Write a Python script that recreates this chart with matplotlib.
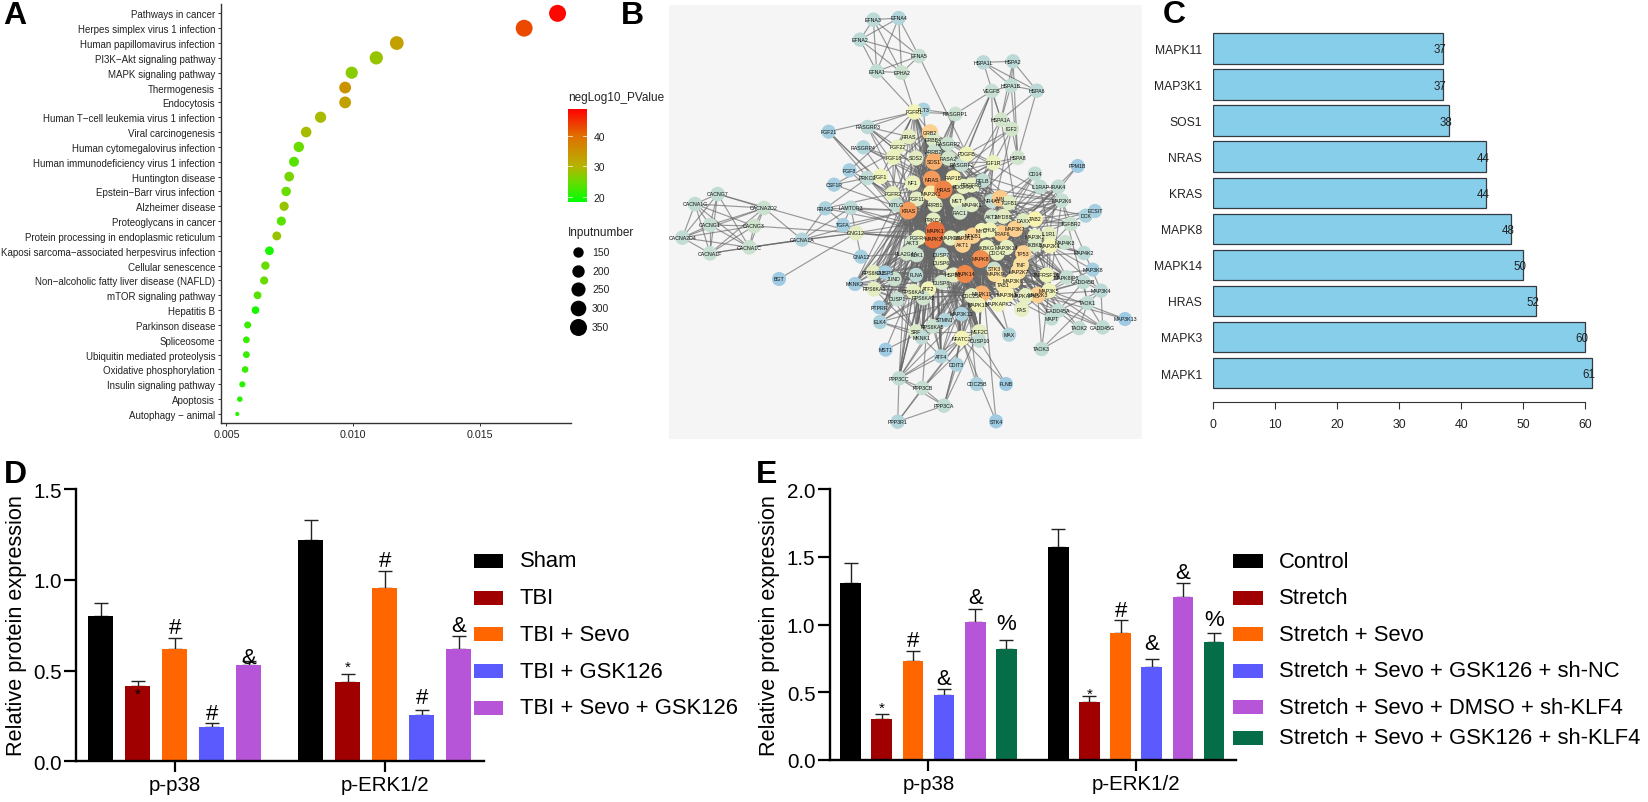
import numpy as np
import matplotlib
matplotlib.use('Agg')
import matplotlib.pyplot as plt
from matplotlib.colors import LinearSegmentedColormap
from matplotlib.collections import LineCollection
from matplotlib.patches import Rectangle

plt.rcParams['font.family'] = ['Liberation Sans', 'DejaVu Sans']

# ---------- Panel A data ----------
pathways = ['Pathways in cancer', 'Herpes simplex virus 1 infection', 'Human papillomavirus infection',
            'PI3K\u2212Akt signaling pathway', 'MAPK signaling pathway', 'Thermogenesis', 'Endocytosis',
            'Human T\u2212cell leukemia virus 1 infection', 'Viral carcinogenesis', 'Human cytomegalovirus infection',
            'Human immunodeficiency virus 1 infection', 'Huntington disease', 'Epstein\u2212Barr virus infection',
            'Alzheimer disease', 'Proteoglycans in cancer', 'Protein processing in endoplasmic reticulum',
            'Kaposi sarcoma\u2212associated herpesvirus infection', 'Cellular senescence',
            'Non\u2212alcoholic fatty liver disease (NAFLD)', 'mTOR signaling pathway', 'Hepatitis B',
            'Parkinson disease', 'Spliceosome', 'Ubiquitin mediated proteolysis', 'Oxidative phosphorylation',
            'Insulin signaling pathway', 'Apoptosis', 'Autophagy \u2212 animal']
ratio = [0.01808, 0.01676, 0.01173, 0.01092, 0.00995, 0.00969, 0.00969, 0.00872, 0.00815, 0.00786,
         0.00767, 0.00748, 0.00736, 0.00728, 0.00717, 0.00699, 0.00670, 0.00654, 0.00649, 0.00623,
         0.00615, 0.00584, 0.00579, 0.00579, 0.00574, 0.00563, 0.00553, 0.00543]
neglog = [48, 43, 33, 28, 27, 35, 33, 29, 29, 25, 24, 26, 25, 28, 24, 28, 20, 25, 25, 24, 20,
          22, 22, 22, 22, 21, 21, 21]
inputnumber = [350, 345, 240, 225, 195, 185, 185, 170, 155, 150, 140, 135, 130, 125, 122, 118, 115,
               108, 105, 98, 95, 85, 82, 82, 80, 72, 65, 50]
size_legend = [150, 200, 250, 300, 350]
color_ticks = [20, 30, 40]

# ---------- Panel B data: name, layout x, layout y, degree ----------
nodes = """EFNA3 640 62 5;EFNA4 716 57 4;EFNA2 600 122 5;EFNA5 777 171 7;EFNA1 650 217 6;EPHA2 725 221 8
HSPA1L 970 190 5;HSPA2 1059 187 5;HSPA1B 1053 260 6;HSPA6 1130 275 5;VEGFB 995 276 7;HSPA1A 1023 362 10
IGF2 1055 390 10;HSPA8 1073 476 9;FLT3 790 332 3;FGFR1 763 339 18;RASGRP1 886 345 8;RASGRP3 623 384 5
FGF21 506 398 2;RASGRP4 610 445 4;FGF8 568 514 2;CSF1R 522 557 2;PRKCE 622 537 6;FGF1 662 532 17
FGF22 713 444 15;FGF18 700 475 16;RRAS 747 413 14;GRB2 810 400 28;ERBB4 820 422 12;RASGRP2 863 435 8
ARRB2 822 458 8;SOS1 822 487 38;RASA2 865 478 10;RASGRF2 905 497 7;PDGFB 920 465 17;SOS2 768 477 14
IGF1R 1000 491 16;CD14 1125 524 6;PPM1B 1253 501 1;IL1RAP 1140 563 6;IRAK4 1195 563 6;MAP2K6 1205 605 7
ECSIT 1305 636 2;DCK 1277 650 3;TGFBR2 1232 675 8;NF1 758 552 16;NRAS 815 541 44;RAP1B 880 537 20
PDGFRA 910 562 15;PDGFRB 935 558 15;RELB 968 545 6;FGFR2 698 584 15;KITLG 710 618 6;MAP2K1 812 583 22
FGF11 770 600 14;ARRB1 825 617 14;KRAS 745 635 44;HRAS 850 572 52;PRKCA 820 663 14;MET 892 606 15
RAC1 900 640 10;MAP4K1 935 617 13;NR4A1 995 606 7;JUN 1020 598 30;TGFB1 1047 611 13;MYD88 1030 652 14
AKT2 995 653 10;DAXX 1090 665 13;TAB2 1125 660 20;MAP3K7 1065 690 28;TRAF6 1025 703 30;MYC 965 695 18
CHUK 990 693 17;TP53 1090 763 28;TNF 1083 797 25;MAP2K7 1075 818 25;IL1R1 1167 705 14;MAP3K2 1125 712 15
IKBKB 1125 737 12;MAP2K4 1170 740 18;MAP4K3 1215 730 8;MAP4K2 1272 762 5;MAP3K8 1298 812 2;MAP3K4 1323 875 5
GADD45B 1270 849 6;MAPK8IP1 1220 835 7;TNFRSF1A 1160 828 17;MAP3K5 1167 875 17;MAP2K3 1133 888 28
MAPKAPK3 1097 890 15;TAOK1 1283 912 6;GADD45A 1195 935 6;MAP3K13 1395 960 1;TAOK2 1257 987 6;GADD45G 1328 985 6
MAPT 1175 958 6;TAOK3 1145 1050 6;FAS 1085 931 15;MAX 1047 1007 4;MAP3K3 1040 887 20;TAB1 1030 858 22
MAP3K6 1060 845 22;MAP3K14 1040 745 15;IKBKG 980 745 16;MAPK8 962 780 48;CDC42 1012 762 15;MAPK1 826 695 61
MAPK3 820 720 60;MAPK10 872 717 15;MAP2K2 910 717 15;AKT1 908 737 28;NFKB1 938 710 28;FGFR4 775 716 16
AKT3 757 730 10;PLA2G4A 740 763 10;ELK1 770 768 8;DUSP7 845 767 5;DUSP6 845 790 15;HSPB1 880 828 14
MAPK14 915 825 50;STK3 1002 810 8;MAPK9 1005 825 25;MAPK11 965 885 37;MAPK13 955 918 17;MAPKAPK2 1015 915 17
CDC25A 935 890 14;FLNA 768 828 5;JUND 703 840 8;DUSP8 845 850 10;ATF2 805 870 18;RPS6KA6 760 877 15
RPS6KA1 642 870 14;RPS6KA3 640 820 14;DUSP5 675 820 2;MKNK2 585 855 2;DUSP1 712 900 7;RPS6KA2 790 897 9
PTPRR 658 925 2;ELK4 660 969 3;SRF 768 998 12;RPS6KA5 818 982 8;MKNK1 785 1015 6;STMN1 855 963 4
MAP3K12 905 945 3;NFATC2 905 1018 18;MEF2C 958 998 15;DUSP10 958 1025 6;ATF4 843 1072 4;DDIT3 890 1097 3
PPP3CC 717 1138 6;PPP3CB 787 1167 7;CDC25B 950 1155 3;FLNB 1038 1155 1;PPP3CA 852 1220 6;PPP3R1 713 1268 4
STK4 1008 1267 1;MST1 677 1052 1;CACNG7 173 585 6;CACNA1G 105 615 6;CACNA2D2 312 627 8;CACNG1 150 678 7
CACNG3 282 681 9;CACNA2D4 67 716 6;CACNA1F 150 763 7;CACNA1C 268 745 8;CACNA1A 426 722 4;TGFA 549 678 2
GNG12 588 702 14;LAMTOR3 572 626 5;RRAS2 496 628 3;GNA12 603 773 2;BGT 357 840 1"""

core = ("KRAS NRAS HRAS GRB2 SOS1 SOS2 MAP2K1 MAP2K2 MAP2K3 MAP2K4 MAP2K6 MAP2K7 MAP3K1 MAP3K2 MAP3K3 MAP3K5 MAP3K7 "
        "MAP3K14 AKT1 AKT2 AKT3 JUN MYC TP53 TNF TRAF6 NFKB1 CHUK IKBKB IKBKG TAB1 TAB2 ELK1 ELK4 ATF2 ATF4 SRF MKNK1 "
        "MKNK2 RPS6KA1 RPS6KA2 RPS6KA3 RPS6KA5 RPS6KA6 DUSP1 DUSP5 DUSP6 DUSP7 DUSP8 DUSP10 MAPK8IP1 PRKCA RAC1 "
        "CDC42 FGFR1 FGFR2 FGFR4 PDGFRA PDGFRB IGF1R MET ARRB1 ARRB2 HSPB1 MAPKAPK2 MAPKAPK3 NFATC2 MEF2C PPP3CC")
edge_groups = {
    'EFNA3': 'EFNA4 EFNA2 EFNA1 EPHA2 EFNA5', 'EFNA4': 'EFNA2 EFNA1 EPHA2 EFNA5', 'EFNA2': 'EFNA1 EPHA2 EFNA5',
    'EFNA5': 'EFNA1 EPHA2 PDGFB', 'EFNA1': 'EPHA2 FGFR1', 'EPHA2': 'FGFR1',
    'HSPA1L': 'HSPA2 HSPA1B HSPA6 HSPA1A', 'HSPA2': 'HSPA1B HSPA6 HSPA1A HSPA8', 'HSPA1B': 'HSPA6 HSPA1A HSPA8 VEGFB',
    'HSPA6': 'HSPA1A HSPA8', 'VEGFB': 'RASGRF2 PDGFB RASGRP1 HSPA1A IGF1R HRAS', 'HSPA1A': 'IGF2 AKT1 MAPK1 TP53',
    'IGF2': 'IGF1R HSPA8 KRAS PDGFB AKT2', 'HSPA8': 'MAPK3 IGF1R HRAS', 'RASGRP1': 'HRAS NRAS KRAS FGFR1 RASGRP2 SOS1 FLT3 PRKCA',
    'FGFR1': 'FGF21 RASGRP3 FGF22 FGF18 FGF1 FGF11 FGF8 KITLG GRB2 SOS1 HRAS KRAS NRAS FLT3',
    'FGF21': 'KRAS FGFR2 FGFR4', 'RASGRP3': 'HRAS KRAS NRAS RRAS FGF22 PRKCA', 'RASGRP4': 'HRAS KRAS NRAS FGF18',
    'FGF8': 'FGFR2 FGFR4', 'CSF1R': 'KRAS GRB2 PRKCE', 'PRKCE': 'KRAS HRAS MAPK1 MAPK3 FGF1 RRAS2', 'FGF1': 'FGFR2 FGFR4 KRAS MAPK1 GRB2',
    'FGF22': 'FGFR2 FGFR4 GRB2', 'FGF18': 'FGFR2 FGFR4 NRAS', 'RRAS': 'HRAS MAPK1 NF1 SOS1', 'ERBB4': 'GRB2 SOS1 HRAS KRAS MAPK1 AKT1',
    'CACNG7': 'CACNA1G CACNG1 CACNA2D4 CACNA1F CACNA1C CACNA2D2 GNG12',
    'CACNA1G': 'CACNG1 CACNA2D4 CACNA1F CACNA2D2 CACNG3 CACNA1C',
    'CACNA2D2': 'CACNG1 CACNA2D4 CACNG3 CACNA1C CACNA1F CACNA1A',
    'CACNG1': 'CACNA2D4 CACNA1F CACNG3 CACNA1C', 'CACNA2D4': 'CACNA1F CACNG3 CACNA1C',
    'CACNA1F': 'CACNG3 CACNA1C CACNA1A', 'CACNG3': 'CACNA1C GNG12', 'CACNA1C': 'CACNA1A GNG12',
    'CACNA1A': 'GNA12 GNG12 LAMTOR3 RRAS2 KRAS', 'GNG12': 'TGFA GNA12 RRAS2 LAMTOR3 BGT MAPK1 MAPK3 FGFR4 AKT1 PRKCA',
    'GNA12': 'PLA2G4A', 'TGFA': 'KRAS LAMTOR3', 'LAMTOR3': 'MAPK1 MAPK3 KRAS', 'RRAS2': 'KRAS PRKCE MAPK1 FGFR2',
    'KITLG': 'KRAS MAPK1 AKT3 PRKCA', 'CD14': 'IL1RAP MYD88 TRAF6 TGFB1 JUN', 'IL1RAP': 'IRAK4 MYD88 IL1R1 TRAF6 MAP2K6',
    'IRAK4': 'MYD88 TRAF6 IL1R1 MAP3K7 DAXX', 'PPM1B': 'MAP3K7 TAB2', 'MAP2K6': 'MAP3K7 MAPK14 MAPK11 MAP3K5 DAXX TP53',
    'ECSIT': 'TRAF6 DAXX', 'DCK': 'MAP3K2 JUN', 'TGFBR2': 'MAP3K7 TGFB1 DAXX TAB2 MAP2K4', 'MAP4K3': 'MAP3K2 MAPK8 MAP2K4 TAB1 TNF',
    'MAP4K2': 'MAP3K2 MAP2K4 TRAF6 MAPK8', 'MAP3K8': 'MAP2K4 TNFRSF1A MAP3K5', 'MAP3K4': 'GADD45B GADD45A GADD45G MAP2K3 MAP2K4 MAP2K6 TAOK1',
    'GADD45B': 'MAP3K5 GADD45A TAOK1 MAP2K3', 'GADD45A': 'MAPK14 TP53 MAP2K3 GADD45G MAP3K5', 'GADD45G': 'MAP2K3 TAOK1 MAP3K5',
    'MAPK8IP1': 'MAPK8 MAP2K7 MAP3K5 MAP2K4 MAPK9 MAPK10 TAB1', 'TAOK1': 'MAP2K3 MAP2K6 TAOK2 TAOK3', 'TAOK2': 'MAP2K3 TAOK3 MAP3K5',
    'TAOK3': 'MAP2K3 MAP3K5', 'MAP3K13': 'MAP2K3 MAP3K5', 'MAPT': 'MAPK8 MAPK14 MAP2K3 MAP2K7', 'FAS': 'MAP3K5 DAXX TNF CHUK MAPK8 MAPK14 TP53',
    'MAX': 'MYC MAPK14 MAPK1 MAPK3', 'STK3': 'MAPK14 RAC1', 'FLNA': 'MAPK14 MAPK1 MAPK8 RAC1 CDC42 ATF2', 'JUND': 'JUN MAPK1 MAPK8 MAPK14 ATF2',
    'STMN1': 'MAPK1 MAPK14 MAPK8', 'MAP3K12': 'MAP2K7 MAPK8 MAPK14', 'NFATC2': 'PPP3CC PPP3CB PPP3CA PPP3R1 JUN ATF4 MEF2C',
    'MEF2C': 'MAPK14 PPP3CA PPP3CB', 'DUSP10': 'MAPK14 MAPK8 MAPK1 FLNB', 'ATF4': 'PPP3CC DDIT3 MAPK14 RPS6KA5', 'DDIT3': 'MAPK14 PPP3CA',
    'CDC25B': 'MAPK14 NFATC2', 'FLNB': 'NFATC2', 'STK4': 'MAPK8 NFATC2', 'MST1': 'MAPK1 RPS6KA5',
    'PPP3CC': 'PPP3CB PPP3CA PPP3R1', 'PPP3CB': 'PPP3CA PPP3R1 MAPK3', 'PPP3CA': 'PPP3R1 MAPK8', 'PPP3R1': 'NFATC2',
    'PTPRR': 'MAPK1 MAPK3 MAPK14', 'ELK4': 'MAPK14 SRF MAPK8', 'BGT': 'GNG12',
    'MAPK1': core + ' MAPK3 MAPK14 MAPK8 MAPK9 MAPK10 NF1 RAP1B FLT3 CDC25A',
    'MAPK3': core + ' MAPK14 MAPK8 NF1 RELB NR4A1 RAP1B MAP4K1 TGFB1',
    'HRAS': core + ' NRAS RAP1B RASA2 RASGRF2 RASGRP2 NF1 RAC1 FGF11 PDGFB',
    'KRAS': core + ' NRAS RAP1B RASA2 RASGRF2 RASGRP2 NF1 RAC1 FGF11 PDGFB',
    'NRAS': core + ' RAP1B RASA2 RASGRF2 RASGRP2 NF1 RAC1 FGF11 PDGFB',
    'MAPK14': core + ' MAPK8 MAPK11 MAPK13 MAPK9 MAP3K6 MAP4K1 CDC25A DAXX TGFB1 TNFRSF1A MAPT',
    'MAPK8': core + ' MAPK9 MAPK10 MAP3K6 MAP4K1 DAXX TGFB1 TNFRSF1A',
    'MAPK11': core + ' MAPK13 CDC25A MAP3K6 DAXX',
    'MAP3K1': core, 'SOS1': core + ' RASA2 FGF22 FGF18 PDGFB', 'GRB2': core + ' RASA2 FGF11 PDGFB FGF1',
    'MAP3K7': 'MAP2K3 MAP2K4 MAP2K6 MAP2K7 TAB1 TAB2 TRAF6 TNF TP53 IKBKB IKBKG CHUK NFKB1 DAXX MAP3K6 MAP3K5 IL1R1 MYD88',
    'TRAF6': 'TNF TP53 IKBKB IKBKG CHUK NFKB1 DAXX MAP3K5 TAB1 TAB2 IL1R1 MYD88 AKT1 TNFRSF1A MAP3K14',
    'TNF': 'TP53 TNFRSF1A AKT1 MAP2K7 MAP3K5 DAXX MAP3K14 NFKB1 JUN', 'TP53': 'AKT1 MAP2K3 MAP2K4 MAP3K2 IKBKB MYC JUN',
    'AKT1': 'AKT2 AKT3 NFKB1 MYC CHUK IKBKB PDGFRA PDGFRB IGF1R MET FGFR1 FGFR2 RAC1 GRB2 MAP3K5 NR4A1 TGFB1',
    'MAP2K3': 'MAP3K5 MAP3K2 MAP3K6 MAPKAPK3 TNFRSF1A MAP2K7', 'MAP2K4': 'IL1R1 MAP3K2 TAB1 TAB2 DAXX IKBKB MAP3K5 MAP3K6',
    'MAP2K7': 'TAB1 MAP3K3 MAP3K5 MAP3K6 TNFRSF1A', 'TNFRSF1A': 'MAP3K5 IL1R1 TAB2 DAXX IKBKB',
    'RPS6KA1': 'SRF DUSP1 ATF2 JUND RPS6KA3', 'RPS6KA3': 'SRF FLNA JUND DUSP5 DUSP1', 'RPS6KA2': 'SRF DUSP1 ATF2 RPS6KA6',
    'DUSP1': 'SRF ELK4 ELK1 PTPRR MKNK2', 'MKNK2': 'ATF2', 'SRF': 'ELK1 ELK4 MEF2C RPS6KA5 MKNK1', 'ELK1': 'FLNA DUSP6 SRF',
    'MKNK1': 'ELK4 RPS6KA5 ATF4',
}
# ---------- Panel C data ----------
genes = ['MAPK1', 'MAPK3', 'HRAS', 'MAPK14', 'MAPK8', 'KRAS', 'NRAS', 'SOS1', 'MAP3K1', 'MAPK11']
gene_counts = [61, 60, 52, 50, 48, 44, 44, 38, 37, 37]

# ---------- Panels D / E data ----------
groups = ['p-p38', 'p-ERK1/2']
d_labels = ['Sham', 'TBI', 'TBI + Sevo', 'TBI + GSK126', 'TBI + Sevo + GSK126']
d_means = [[0.80, 0.414, 0.62, 0.1875, 0.531], [1.222, 0.436, 0.956, 0.256, 0.618]]
d_tops = [[0.873, 0.445, 0.678, 0.21, 0.555], [1.331, 0.482, 1.048, 0.285, 0.693]]
d_signs = [['', '*', '#', '#', '&'], ['', '*', '#', '#', '&']]
e_labels = ['Control', 'Stretch', 'Stretch + Sevo', 'Stretch + Sevo + GSK126 + sh-NC',
            'Stretch + Sevo + DMSO + sh-KLF4', 'Stretch + Sevo + GSK126 + sh-KLF4']
e_means = [[1.305, 0.303, 0.732, 0.48, 1.022, 0.818], [1.571, 0.431, 0.938, 0.69, 1.204, 0.869]]
e_tops = [[1.458, 0.337, 0.803, 0.525, 1.113, 0.889], [1.709, 0.47, 1.032, 0.749, 1.31, 0.936]]
e_signs = [['', '*', '#', '&', '&', '%'], ['', '*', '#', '&', '&', '%']]
bar_colors = ['#000000', '#a00000', '#ff6600', '#5a5aff', '#b755d9', '#056d47']

# ---------- layout helpers ----------
W, H = 1649, 803
fig = plt.figure(figsize=(W / 100, H / 100), dpi=100, facecolor='white')


def ax_px(l, t, r, b):
    return fig.add_axes([l / W, 1 - b / H, (r - l) / W, (b - t) / H])


def txt(x, y, s, **kw):
    kw.setdefault('va', 'center')
    return fig.text(x / W, 1 - y / H, s, **kw)


for s, x, y in [('A', 15, 16), ('B', 632, 16), ('C', 1174, 15), ('D', 15, 475), ('E', 767, 475)]:
    txt(x, y, s, fontsize=23, fontweight='bold', ha='center', color='black')

# ---------- Panel A ----------
axA = ax_px(221, 5, 571.5, 424)
green_red = LinearSegmentedColormap.from_list('gr', [(0, '#00ff00'), (0.21, '#66dd00'), (0.38, '#b5b500'),
                                                    (0.71, '#e07000'), (1, '#ff0000')])
vmin, vmax = 18.5, 48.7


def area(n):
    d2 = 108 + 0.905 * (n - 150)
    return d2 * 0.72 ** 2


ypos = np.arange(len(pathways))[::-1]
axA.scatter(ratio, ypos, s=[area(n) for n in inputnumber], c=neglog, cmap=green_red, vmin=vmin, vmax=vmax,
            linewidths=0, zorder=3, clip_on=False)
axA.set_xlim(0.004787, 0.01863)
axA.set_ylim(-0.606, 27.63)
axA.set_xticks([0.005, 0.010, 0.015])
axA.set_xticklabels(['0.005', '0.010', '0.015'], fontsize=7.7)
axA.set_yticks(ypos)
axA.set_yticklabels(pathways, fontsize=7.0)
axA.tick_params(length=2.2, width=0.7, pad=2, color='#333333', labelcolor='#222222')
for sp in ['top', 'right']:
    axA.spines[sp].set_visible(False)
for sp in ['left', 'bottom']:
    axA.spines[sp].set_linewidth(1.0)
    axA.spines[sp].set_color('#333333')

cax = ax_px(568, 110, 586.7, 202.7)
grad = np.linspace(vmax, vmin, 256).reshape(-1, 1)
cax.imshow(grad, aspect='auto', cmap=green_red, vmin=vmin, vmax=vmax, extent=[0, 1, vmin, vmax])
cax.set_xticks([])
cax.set_yticks(color_ticks)
cax.set_yticklabels([str(v) for v in color_ticks], fontsize=7.5)
cax.yaxis.tick_right()
cax.tick_params(axis='y', length=0, pad=5, labelcolor='#222222')
for v in color_ticks:
    cax.plot([0, 0.2], [v, v], color='white', lw=0.5)
    cax.plot([0.8, 1], [v, v], color='white', lw=0.5)
cax.set_xlim(0, 1)
cax.set_ylim(vmin, vmax)
for sp in cax.spines.values():
    sp.set_visible(False)
txt(568, 98, 'negLog10_PValue', fontsize=8.5, color='#222222')
txt(568, 233, 'Inputnumber', fontsize=8.5, color='#222222')
lax = ax_px(568, 243, 590, 338)
lax.axis('off')
lax.set_xlim(568, 590)
lax.set_ylim(338, 243)
for n, yy in zip(size_legend, [253, 272, 290, 309, 328]):
    lax.scatter([578.5], [yy], s=area(n), color='black', linewidths=0)
    txt(592, yy, str(n), fontsize=7.5, color='#222222')

# ---------- Panel B ----------
axB = ax_px(669, 6, 1141.7, 440)
axB.set_facecolor('#f5f5f5')
axB.set_xlim(27, 1445)
axB.set_ylim(1320, 18)
axB.set_xticks([])
axB.set_yticks([])
for sp in axB.spines.values():
    sp.set_visible(False)
names, nx, ny, deg = [], [], [], []
for row in nodes.replace('\n', ';').split(';'):
    a, b, c, d = row.split()
    names.append(a); nx.append(float(b)); ny.append(float(c)); deg.append(float(d))
pos = dict(zip(names, zip(nx, ny)))
segs = []
seen = set()
for hub, others in edge_groups.items():
    if hub not in pos:
        continue
    for o in others.split():
        if o in pos and o != hub and frozenset((hub, o)) not in seen:
            seen.add(frozenset((hub, o)))
            segs.append([pos[hub], pos[o]])
axB.add_collection(LineCollection(segs, colors='#666666', linewidths=0.85, alpha=0.65, zorder=1))
node_cmap = LinearSegmentedColormap.from_list('deg', [(0, '#9ecbe3'), (0.09, '#c4ded3'), (0.3, '#f7f7b5'),
                                                     (0.5, '#fdc583'), (0.8, '#f08a4b'), (1, '#e9703a')])
deg_arr = np.array(deg)
axB.scatter(nx, ny, s=((14 + deg_arr / 61 * 5) * 0.72) ** 2, c=deg_arr, cmap=node_cmap, vmin=1, vmax=61,
            linewidths=0, zorder=2)
for n, a, b in zip(names, nx, ny):
    axB.text(a, b, n, fontsize=3.8, ha='center', va='center', color='#111111', zorder=3)

# ---------- Panel C ----------
axC = ax_px(1213.3, 30, 1600, 403.3)
yc = np.arange(len(genes))
axC.barh(yc, gene_counts, height=0.84, color='#87ceeb', edgecolor='#333a40', linewidth=0.9)
for yy, v in zip(yc, gene_counts):
    axC.text(v - 0.5, yy - 0.03, str(v), fontsize=8.3, ha='center', va='center', color='#222222')
axC.set_xlim(0, 62.37)
axC.set_ylim(-0.812, 9.537)
axC.set_xticks(range(0, 61, 10))
axC.tick_params(axis='x', length=5.2, width=0.8, pad=6, labelsize=8.8, color='#333333', labelcolor='#222222')
axC.set_yticks(yc)
axC.set_yticklabels(genes, fontsize=8.7, color='#222222')
axC.tick_params(axis='y', length=0, pad=8)
for sp in ['top', 'right', 'left']:
    axC.spines[sp].set_visible(False)
axC.spines['bottom'].set_bounds(0, 60)
axC.spines['bottom'].set_linewidth(0.8)
axC.spines['bottom'].set_color('#333333')


# ---------- Panels D / E ----------
def grouped(ax, means, tops, signs, gap, width, offs, legend_labels, legend_ys, swatch, text_x, ylim, yticks, ylab_x):
    n = len(means[0])
    centers = []
    for g in range(2):
        xs = np.arange(n) + g * (n - 1 + gap)
        ax.bar(xs, means[g], width=width, color=bar_colors[:n], linewidth=0, zorder=2)
        ax.errorbar(xs, means[g], yerr=[np.zeros(n), np.array(tops[g]) - np.array(means[g])], fmt='none',
                    ecolor='#222222', elinewidth=1.0, capsize=5, capthick=1.0, zorder=1)
        centers.append(xs.mean())
        for x, top, sg, off in zip(xs, tops[g], signs[g], offs[g]):
            if sg:
                ax.annotate(sg, (x, top), xytext=(0, off - (5 if sg == '*' else 0)), textcoords='offset pixels',
                            ha='center', va='center', fontsize=11 if sg == '*' else 16,
                            color='black', zorder=4, annotation_clip=False)
    ax.set_ylim(*ylim)
    ax.set_yticks(yticks)
    ax.set_yticklabels([f'{v:.1f}' for v in yticks], fontsize=14.8)
    ax.set_xticks(centers)
    ax.set_xticklabels(groups, fontsize=14.8)
    ax.tick_params(axis='y', length=8.8, width=1.6, pad=1.5)
    ax.tick_params(axis='x', length=8, width=1.6, pad=2)
    for sp in ['top', 'right']:
        ax.spines[sp].set_visible(False)
    for sp in ['left', 'bottom']:
        ax.spines[sp].set_linewidth(1.7)
    ax.spines['bottom'].set_zorder(5)
    for i, (lab, yy) in enumerate(zip(legend_labels, legend_ys)):
        fig.add_artist(Rectangle((swatch[0] / W, 1 - (yy + 7) / H), (swatch[1] - swatch[0]) / W, 14 / H,
                                 transform=fig.transFigure, facecolor=bar_colors[i], edgecolor='none'))
        txt(text_x, yy, lab, fontsize=15.8, color='black')
    txt(ylab_x, 626, 'Relative protein expression', fontsize=15.6, rotation=90,
        ha='center', color='black')


axD = ax_px(76, 490.3, 484, 762.3)
axD.set_xlim(-0.668, 10.36)
grouped(axD, d_means, d_tops, d_signs, 1.68, 0.68,
        [[0, -8, 11, 9.3, 3.3], [0, 12, 11, 12, 10]], d_labels, [561.7, 598.7, 635.3, 672.3, 709],
        (474, 503.5), 519.6, (0, 1.5), [0, 0.5, 1.0, 1.5], 16.5)

axE = ax_px(829.7, 490.3, 1236, 761)
axE.set_xlim(-0.671, 12.37)
grouped(axE, e_means, e_tops, e_signs, 1.667, 0.665,
        [[0, 12, 10.7, 10.7, 12, 16.3], [0, 7.3, 9.7, 14.7, 10.3, 13.7]], e_labels,
        [562, 598.7, 635.3, 671.7, 708.3, 739], (1233.4, 1263.2), 1278.7, (0, 2.0), [0, 0.5, 1.0, 1.5, 2.0], 770)

fig.savefig('out.png', dpi=100, facecolor='white')
